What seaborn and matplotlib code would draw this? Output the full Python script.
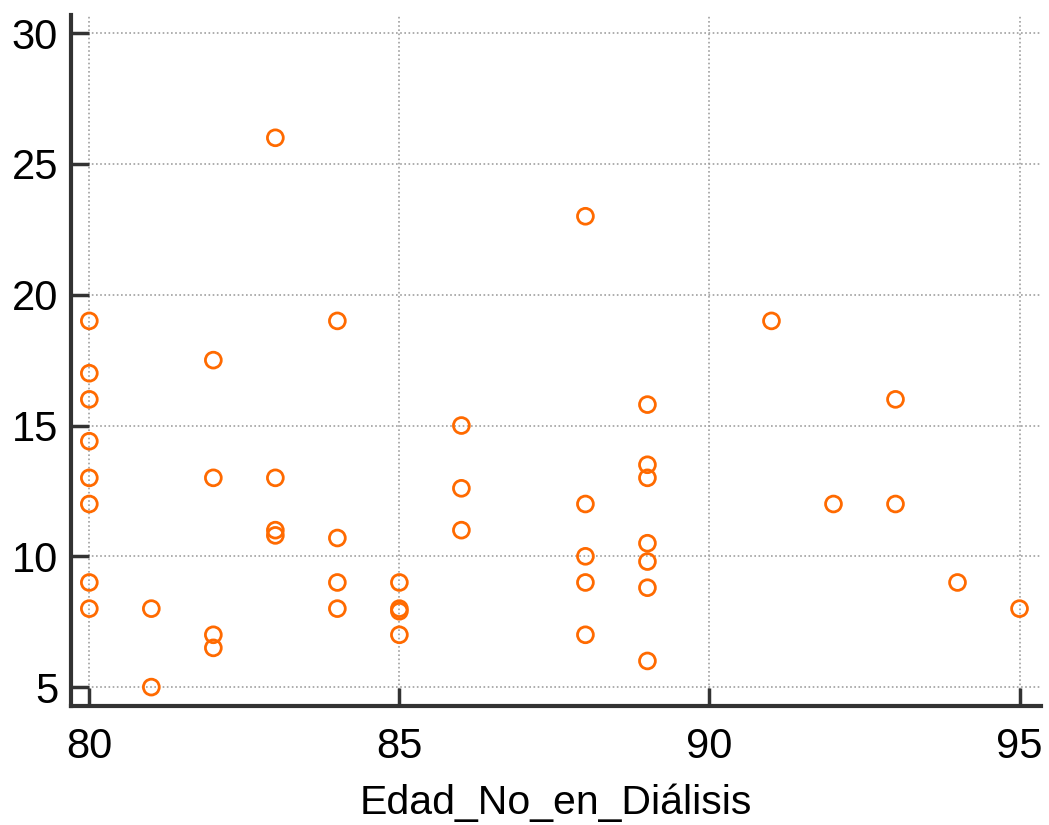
import matplotlib
matplotlib.use("Agg")
import matplotlib.pyplot as plt
import seaborn as sns
import pandas as pd

# Data
edad = [80, 80, 80, 80, 80, 80, 80, 80,
        81, 81,
        82, 82, 82, 82,
        83, 83, 83, 83,
        84, 84, 84, 84,
        85, 85, 85, 85,
        86, 86, 86,
        88, 88, 88, 88, 88,
        89, 89, 89, 89, 89, 89, 89,
        91, 92, 93, 93, 94, 95]
valor = [19, 17, 16, 14.4, 13, 12, 9, 8,
         8, 5,
         17.5, 13, 7, 6.5,
         26, 13, 11, 10.8,
         19, 10.7, 9, 8,
         9, 8, 7.9, 7,
         15, 12.6, 11,
         23, 12, 10, 9, 7,
         15.8, 13.5, 13, 10.5, 9.8, 8.8, 6,
         19, 12, 16, 12, 9, 8]
x_ticks = [80, 85, 90, 95]
y_ticks = [5, 10, 15, 20, 25, 30]

df = pd.DataFrame({"Edad_No_en_Diálisis": edad, "y": valor})

sns.set_style("white")
plt.rcParams['font.family'] = ['Liberation Sans', 'DejaVu Sans']

fig, ax = plt.subplots(figsize=(10.49, 8.25), dpi=100)
fig.subplots_adjust(left=0.068, right=0.992, top=0.982, bottom=0.144)

sns.scatterplot(x="Edad_No_en_Diálisis", y="y", data=df, ax=ax,
                facecolor="none", edgecolor="#ff6a00", linewidth=2,
                s=130, marker="o", zorder=3)

ax.set_xlim(79.71, 95.34)
ax.set_ylim(4.27, 30.7)
ax.set_xticks(x_ticks)
ax.set_yticks(y_ticks)
ax.grid(True, linestyle=(0, (1, 1.5)), color="#a0a0a0", linewidth=1.2)

for side in ["top", "right"]:
    ax.spines[side].set_visible(False)
for side in ["left", "bottom"]:
    ax.spines[side].set_color("#333333")
    ax.spines[side].set_linewidth(3)

ax.tick_params(axis="both", direction="in", length=13, width=2.5,
               bottom=True, left=True, color="#333333",
               labelcolor="black", labelsize=30)
ax.tick_params(axis="y", pad=9.5)
ax.tick_params(axis="x", pad=15)
ax.set_xlabel("Edad_No_en_Diálisis", fontsize=29.5, labelpad=12,
              color="black")
ax.set_ylabel("")

plt.savefig("out.png", dpi=100)
